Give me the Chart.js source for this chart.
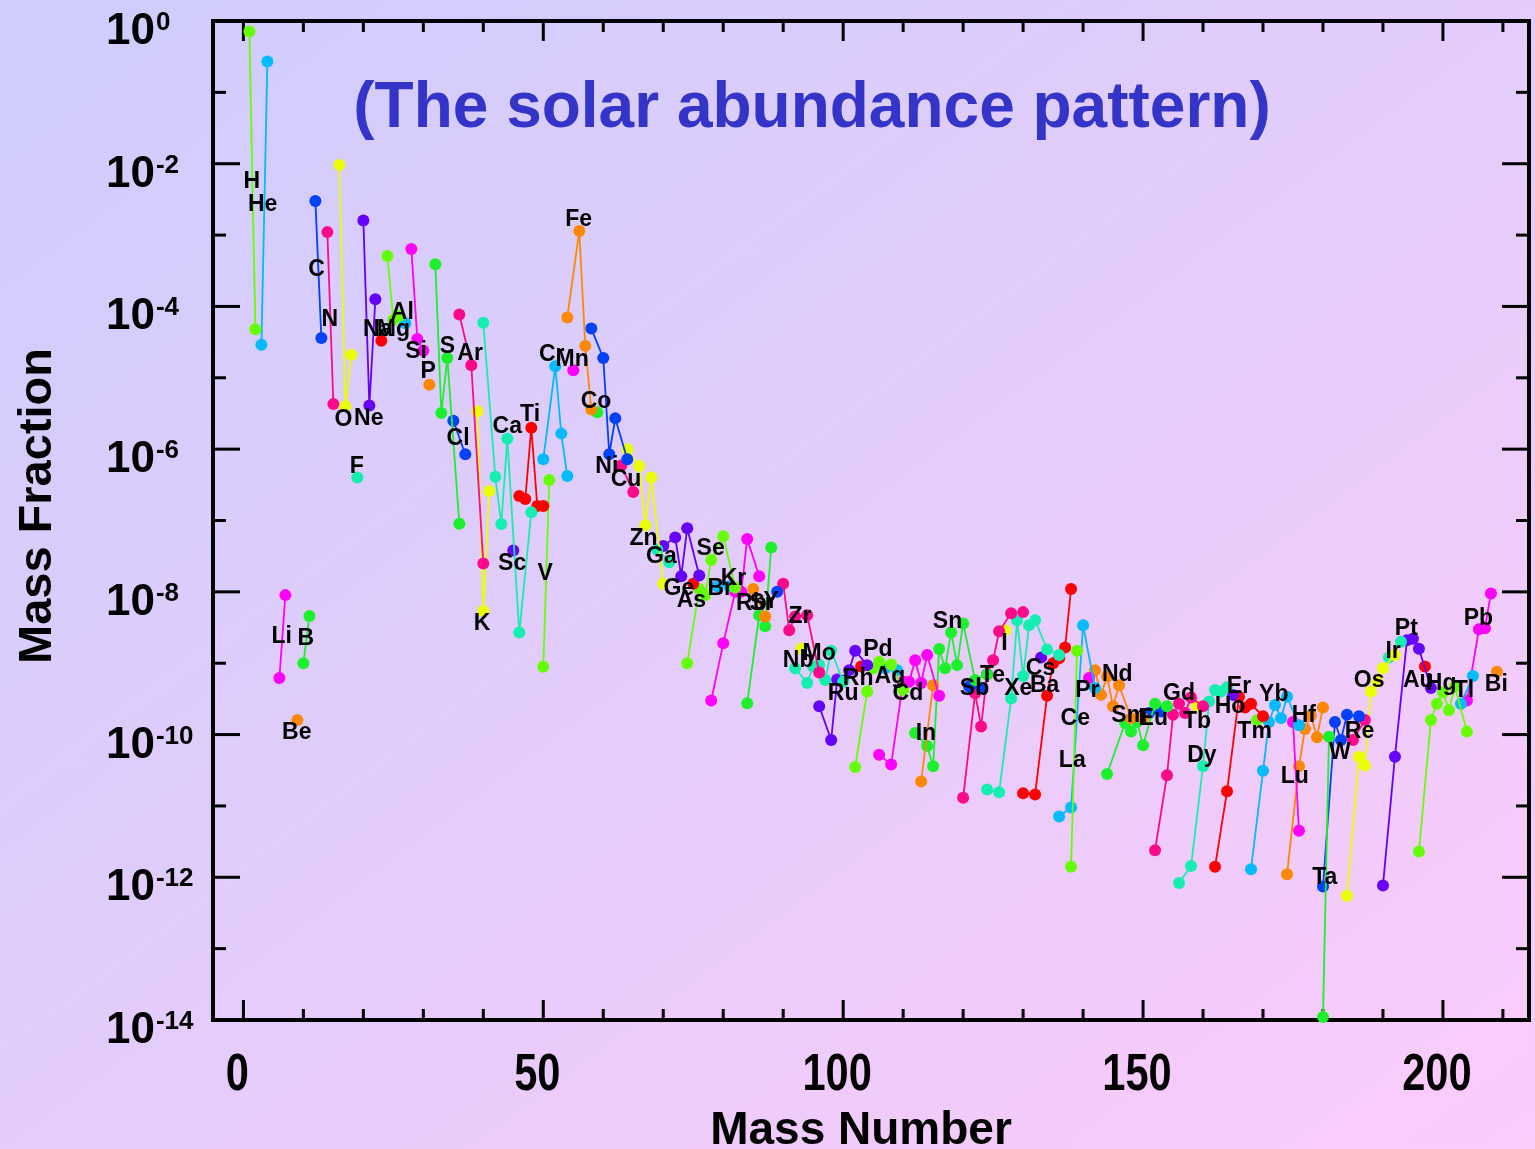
<!DOCTYPE html>
<html>
<head>
<meta charset="utf-8">
<script src="https://cdn.jsdelivr.net/npm/chart.js@4.4.1/dist/chart.umd.min.js"></script>
<style>
  html, body { margin: 0; padding: 0; }
  body {
    width: 1535px; height: 1149px; overflow: hidden;
    background: linear-gradient(to bottom right, #cecdfd 0%, #e3ccfb 50%, #fbcbfa 100%);
  }
  canvas { display: block; }
</style>
</head>
<body>
<canvas id="c" width="1535" height="1149"></canvas>
<script>
// Solar isotopic mass fractions, grouped by element (isotopes joined by a line)
const elements = ['H','He','Li','Be','B','C','N','O','F','Ne','Na','Mg','Al','Si','P','S','Cl','Ar','K','Ca',
  'Sc','Ti','V','Cr','Mn','Fe','Co','Ni','Cu','Zn','Ga','Ge','As','Se','Br','Kr','Rb','Sr','Y','Zr',
  'Nb','Mo','Ru','Rh','Pd','Ag','Cd','In','Sn','Sb','Te','I','Xe','Cs','Ba','La','Ce','Pr','Nd','Sm',
  'Eu','Gd','Tb','Dy','Ho','Er','Tm','Yb','Lu','Hf','Ta','W','Re','Os','Ir','Pt','Au','Hg','Tl','Pb','Bi'];

const massNumbers = [
  [1,2],[3,4],[6,7],[9],[10,11],[12,13],[14,15],[16,17,18],[19],[20,21,22],
  [23],[24,25,26],[27],[28,29,30],[31],[32,33,34,36],[35,37],[36,38,40],[39,40,41],[40,42,43,44,46,48],
  [45],[46,47,48,49,50],[50,51],[50,52,53,54],[55],[54,56,57,58],[59],[58,60,61,62,64],[63,65],[64,66,67,68,70],
  [69,71],[70,72,73,74,76],[75],[74,76,77,78,80,82],[79,81],[78,80,82,83,84,86],[85,87],[84,86,87,88],[89],[90,91,92,94,96],
  [93],[92,94,95,96,97,98,100],[96,98,99,100,101,102,104],[103],[102,104,105,106,108,110],[107,109],
  [106,108,110,111,112,113,114,116],[113,115],[112,114,115,116,117,118,119,120,122,124],[121,123],
  [120,122,123,124,125,126,128,130],[127],[124,126,128,129,130,131,132,134,136],[133],[130,132,134,135,136,137,138],
  [138,139],[136,138,140,142],[141],[142,143,144,145,146,148,150],[144,147,148,149,150,152,154],
  [151,153],[152,154,155,156,157,158,160],[159],[156,158,160,161,162,163,164],[165],[162,164,166,167,168,170],
  [169],[168,170,171,172,173,174,176],[175,176],[174,176,177,178,179,180],[180,181],[180,182,183,184,186],
  [185,187],[184,186,187,188,189,190,192],[191,193],[190,192,194,195,196,198],[197],[196,198,199,200,201,202,204],
  [203,205],[204,206,207,208],[209]
];

const fractions = [
  [7.1e-1,4.8e-5],[2.9e-5,2.7e-1],[6.2e-10,9.0e-9],[1.6e-10],[1.0e-9,4.6e-9],[3.0e-3,3.6e-5],[1.1e-3,4.3e-6],
  [9.6e-3,4.0e-6,2.1e-5],[4.0e-7],[1.6e-3,4.1e-6,1.26e-4],
  [3.3e-5],[5.1e-4,6.5e-5,7.4e-5],[5.8e-5],[6.4e-4,3.5e-5,2.4e-5],[8.0e-6],[3.9e-4,3.2e-6,1.9e-5,9.0e-8],
  [2.5e-6,8.5e-7],[7.7e-5,1.5e-5,2.5e-8],[3.4e-6,5.4e-9,2.6e-7],[5.9e-5,4.1e-7,8.9e-8,1.4e-6,2.7e-9,1.3e-7],
  [3.8e-8],[2.2e-7,2.0e-7,2.0e-6,1.6e-7,1.6e-7],[8.9e-10,3.7e-7],[7.2e-7,1.45e-5,1.65e-6,4.2e-7],[1.28e-5],
  [7.0e-5,1.14e-3,2.8e-5,3.6e-6],[3.3e-6],[4.9e-5,1.9e-5,8.5e-7,2.7e-6,7.2e-7],[5.9e-7,2.5e-7],
  [1.0e-6,5.8e-7,8.6e-8,4.0e-7,1.3e-8],
  [3.9e-8,2.6e-8],[4.4e-8,5.8e-8,1.66e-8,7.8e-8,1.7e-8],[1.3e-8],[1.0e-9,1.1e-8,9.0e-9,2.8e-8,6.0e-8,1.15e-8],
  [1.2e-8,1.2e-8],[3.0e-10,1.9e-9,1.0e-8,1.0e-8,5.5e-8,1.66e-8],[1.1e-8,4.5e-9],[2.75e-10,4.7e-9,3.3e-9,4.2e-8],
  [1.0e-8],[1.3e-8,2.9e-9,4.5e-9,4.7e-9,7.4e-10],
  [1.6e-9],[8.5e-10,5.3e-10,9.0e-10,9.5e-10,5.8e-10,1.5e-9,5.5e-10],[2.5e-10,8.4e-11,5.9e-10,5.7e-10,8.0e-10,1.5e-9,9.4e-10],
  [9.0e-10],[3.5e-11,4.0e-10,8.5e-10,1.05e-9,9.6e-10,4.2e-10],[8.5e-10,8.0e-10],
  [5.2e-11,3.8e-11,5.5e-10,5.5e-10,1.1e-9,5.3e-10,1.3e-9,3.5e-10],[2.2e-11,4.9e-10],
  [1.05e-10,6.9e-11,3.6e-11,1.58e-9,8.5e-10,2.7e-9,9.4e-10,3.6e-9,5.8e-10,7.0e-10],[4.7e-10,4.5e-10],
  [1.3e-11,3.8e-10,1.3e-10,7.0e-10,1.1e-9,2.8e-9,5.0e-9,5.2e-9],[2.9e-9],
  [1.7e-11,1.55e-11,3.2e-10,4.0e-9,6.6e-10,3.4e-9,4.0e-9,1.56e-9,1.3e-9],[1.2e-9],
  [1.5e-11,1.45e-11,3.5e-10,1.0e-9,1.17e-9,1.66e-9,1.1e-8],
  [1.4e-12,1.5e-9],[7.1e-12,9.5e-12,3.4e-9,4.5e-10],[6.2e-10],[8.0e-10,3.6e-10,6.5e-10,2.5e-10,4.9e-10,1.7e-10,1.7e-10],
  [2.8e-11,1.45e-10,1.1e-10,1.5e-10,7.1e-11,2.7e-10,2.5e-10],
  [2.0e-10,2.1e-10],[2.4e-12,2.7e-11,1.9e-10,2.7e-10,2.0e-10,3.3e-10,2.5e-10],[2.5e-10],
  [8.3e-13,1.44e-12,3.6e-11,2.9e-10,4.2e-10,4.0e-10,4.6e-10],[3.6e-10],[1.4e-12,1.6e-11,3.4e-10,2.4e-10,2.7e-10,1.8e-10],
  [1.6e-10],[1.3e-12,3.1e-11,1.5e-10,2.6e-10,1.7e-10,3.4e-10,1.35e-10],[1.5e-10,4.5e-12],
  [1.1e-12,3.6e-11,1.2e-10,1.85e-10,9.2e-11,2.4e-10],[1.1e-14,9.3e-11],[7.4e-13,1.5e-10,8.4e-11,1.9e-10,1.8e-10],
  [8.4e-11,1.6e-10],[5.5e-13,4.9e-11,3.7e-11,4.0e-10,5.5e-10,8.5e-10,1.3e-9],[1.2e-9,2.0e-9],
  [7.7e-13,4.9e-11,2.1e-9,2.2e-9,1.6e-9,4.5e-10],[9.0e-10],[2.3e-12,1.6e-10,2.7e-10,3.9e-10,2.2e-10,4.7e-10,1.1e-10],
  [2.7e-10,6.6e-10],[3.0e-10,3.0e-9,3.1e-9,9.5e-9],[7.6e-10]
];

// Where each element symbol sits: mass number and log10 of mass fraction
const labelMass = [1.4,3.2,6.4,8.9,10.4,12.2,14.4,16.7,18.9,20.9,22.4,25.0,26.5,28.8,30.8,34.0,35.8,37.8,39.8,44.0,
  44.8,47.8,50.3,51.4,54.8,55.9,58.8,60.6,63.8,66.7,69.7,72.6,74.7,77.9,79.5,81.7,84.7,86.4,88.0,92.8,
  92.5,96.0,100.0,102.5,105.8,107.8,110.8,113.8,117.4,121.9,124.9,126.9,129.2,132.9,133.6,138.2,138.7,140.7,145.7,147.7,
  151.7,156.0,159.0,159.8,164.5,166.0,168.6,171.8,175.3,176.8,180.3,182.8,186.1,187.7,191.7,193.9,195.9,199.7,203.5,205.9,208.9];
const labelLog = [-2.25,-2.57,-8.63,-9.98,-8.66,-3.49,-4.18,-5.58,-6.24,-5.57,-4.33,-4.33,-4.09,-4.64,-4.92,-4.57,-5.85,-4.66,-8.44,-5.69,
  -7.60,-5.52,-7.74,-4.67,-4.75,-2.79,-5.34,-6.25,-6.43,-7.25,-7.51,-7.95,-8.12,-7.39,-7.95,-7.81,-8.17,-8.17,-8.14,-8.35,
  -8.97,-8.86,-9.42,-9.22,-8.81,-9.19,-9.42,-9.99,-8.42,-9.35,-9.17,-8.72,-9.35,-9.07,-9.32,-10.36,-9.77,-9.38,-9.16,-9.74,
  -9.78,-9.42,-9.82,-10.29,-9.61,-9.33,-9.96,-9.44,-10.59,-9.73,-12.01,-10.26,-9.96,-9.24,-8.84,-8.51,-9.24,-9.28,-9.38,-8.37,-9.30];

// Axis ticks
const xTickLabels = [0, 50, 100, 150, 200];
const xMinorTicks = [0,10,20,30,40,50,60,70,80,90,100,110,120,130,140,150,160,170,180,190,200,210];
const yTickExponents = [0, -2, -4, -6, -8, -10, -12, -14];
const yMinorExponents = [-1, -3, -5, -7, -9, -11, -13];

// Element colours repeat in a cycle of eleven
const palette = ['#66ff00','#00bbff','#ff00ff','#ff8800','#1cf02c','#0040ff','#ff0a8c','#eaff00','#14efb0','#6600ff','#ff0000'];

const datasets = elements.map((sym, i) => {
  const col = palette[i % palette.length];
  return {
    label: sym,
    data: massNumbers[i].map((a, j) => ({ x: a, y: fractions[i][j] })),
    borderColor: col,
    backgroundColor: col,
    pointBackgroundColor: col,
    pointBorderWidth: 0,
    pointRadius: 6,
    borderWidth: 1.8,
    showLine: true,
    tension: 0,
    clip: false
  };
});

function seg(ctx, x1, y1, x2, y2) {
  ctx.beginPath(); ctx.moveTo(x1, y1); ctx.lineTo(x2, y2); ctx.stroke();
}

// Box frame with inward ticks on all four sides
const framePlugin = {
  id: 'frame',
  beforeDatasetsDraw(chart) {
    const { ctx, chartArea: a, scales: { x, y } } = chart;
    ctx.save();
    ctx.strokeStyle = '#000';
    ctx.lineWidth = 3;
    yTickExponents.forEach(e => {
      const py = y.getPixelForValue(Math.pow(10, e));
      seg(ctx, a.left, py, a.left + 27, py);
      seg(ctx, a.right, py, a.right - 27, py);
    });
    yMinorExponents.forEach(e => {
      const py = y.getPixelForValue(Math.pow(10, e));
      seg(ctx, a.left, py, a.left + 13, py);
      seg(ctx, a.right, py, a.right - 13, py);
    });
    xMinorTicks.forEach(v => {
      const px = x.getPixelForValue(v);
      const len = (v % 50 === 0) ? 20 : 11;
      seg(ctx, px, a.bottom, px, a.bottom - len);
      seg(ctx, px, a.top, px, a.top + len);
    });
    ctx.lineWidth = 4;
    ctx.strokeRect(a.left, a.top, a.right - a.left, a.bottom - a.top);
    ctx.restore();
  }
};

// Element symbols, tick labels, axis titles and heading
const textPlugin = {
  id: 'texts',
  afterDatasetsDraw(chart) {
    const { ctx, chartArea: a, scales: { x, y } } = chart;
    ctx.save();
    ctx.fillStyle = '#000';
    ctx.textAlign = 'center';
    ctx.textBaseline = 'middle';
    ctx.font = 'bold 23px "Liberation Sans", Arial, sans-serif';
    elements.forEach((sym, i) => {
      ctx.fillText(sym, x.getPixelForValue(labelMass[i]), y.getPixelForValue(Math.pow(10, labelLog[i])));
    });

    // y tick labels: 10 with superscript exponent
    ctx.textAlign = 'left';
    ctx.textBaseline = 'alphabetic';
    yTickExponents.forEach(e => {
      const py = y.getPixelForValue(Math.pow(10, e));
      ctx.font = 'bold 44px "Liberation Sans", Arial, sans-serif';
      const left = 106;
      ctx.fillText('10', left, py + 23);
      const w = ctx.measureText('10').width;
      ctx.font = 'bold 26px "Liberation Sans", Arial, sans-serif';
      ctx.fillText(String(e), left + w + 1, py + 9);
    });

    // x tick labels (condensed)
    ctx.textAlign = 'center';
    ctx.font = 'bold 52px "Liberation Sans", Arial, sans-serif';
    xTickLabels.forEach(v => {
      const px = x.getPixelForValue(v) - 6;
      ctx.save();
      ctx.translate(px, 1090);
      ctx.scale(0.8, 1);
      ctx.fillText(String(v), 0, 0);
      ctx.restore();
    });

    // axis titles
    ctx.font = 'bold 46px "Liberation Sans", Arial, sans-serif';
    ctx.fillText('Mass Number', 861, 1144);
    ctx.save();
    ctx.translate(51, 506);
    ctx.rotate(-Math.PI / 2);
    ctx.font = 'bold 47px "Liberation Sans", Arial, sans-serif';
    ctx.fillText('Mass Fraction', 0, 0);
    ctx.restore();

    // heading
    ctx.fillStyle = '#3434c8';
    ctx.font = 'bold 64px "Liberation Sans", Arial, sans-serif';
    ctx.fillText('(The solar abundance pattern)', 812, 127);
    ctx.restore();
  }
};

new Chart(document.getElementById('c'), {
  type: 'line',
  data: { datasets },
  options: {
    responsive: false,
    animation: false,
    devicePixelRatio: 1,
    layout: { padding: { left: 213, top: 21, right: 2, bottom: 129 } },
    scales: {
      x: { type: 'linear', min: -5.07, max: 214.35, display: false },
      y: { type: 'logarithmic', min: 1e-14, max: 1, display: false }
    },
    plugins: { legend: { display: false }, tooltip: { enabled: false } }
  },
  plugins: [framePlugin, textPlugin]
});
</script>
</body>
</html>
